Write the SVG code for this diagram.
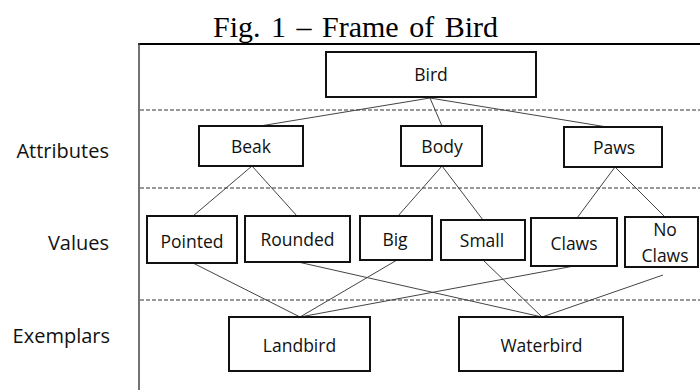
<svg xmlns="http://www.w3.org/2000/svg" width="700" height="390" viewBox="0 0 700 390">
  <style>
    .box { fill: #fff; stroke: #111; stroke-width: 2; }
    .lbl { font-family: "Open Sans", "Liberation Sans", sans-serif; font-size: 17.5px; fill: #111; text-anchor: middle; }
    .side { font-family: "Open Sans", "Liberation Sans", sans-serif; font-size: 20px; fill: #111; text-anchor: end; }
    .title { font-family: "Liberation Serif", "Times New Roman", serif; font-size: 30px; fill: #000; }
    .sep { stroke: #333; stroke-width: 1; stroke-dasharray: 4 2; fill: none; }
    .link { stroke: #444; stroke-width: 1; fill: none; }
  </style>

  <rect width="700" height="390" fill="#fff"/>

  <!-- caption -->
  <text class="title" x="213" y="37" word-spacing="3">Fig. 1 – Frame of Bird</text>

  <!-- frame -->
  <g id="frame">
    <line x1="138" y1="44" x2="700" y2="44" stroke="#000" stroke-width="2"/>
    <line x1="139" y1="43" x2="139" y2="390" stroke="#444" stroke-width="1.5"/>
  </g>

  <!-- layer separators -->
  <g id="separators">
    <line class="sep" x1="140" y1="110" x2="700" y2="110"/>
    <line class="sep" x1="140" y1="188" x2="700" y2="188"/>
    <line class="sep" x1="140" y1="300" x2="700" y2="300"/>
  </g>

  <!-- layer names -->
  <g id="layer-names">
    <text class="side" x="109" y="158">Attributes</text>
    <text class="side" x="109" y="250">Values</text>
    <text class="side" x="110" y="343">Exemplars</text>
  </g>

  <!-- connectors -->
  <g id="connectors">
    <line class="link" x1="430" y1="98" x2="260" y2="126" stroke-width="1.3"/>
    <line class="link" x1="430" y1="98" x2="442" y2="126" stroke-width="1.3"/>
    <line class="link" x1="430" y1="98" x2="607" y2="127" stroke-width="1.3"/>
    <line class="link" x1="252" y1="166" x2="193" y2="216"/>
    <line class="link" x1="252" y1="166" x2="297" y2="216"/>
    <line class="link" x1="442" y1="166" x2="398" y2="216"/>
    <line class="link" x1="442" y1="166" x2="483" y2="220"/>
    <line class="link" x1="615" y1="167" x2="577" y2="218"/>
    <line class="link" x1="615" y1="167" x2="665" y2="217"/>
    <line class="link" x1="193" y1="263" x2="300" y2="317"/>
    <line class="link" x1="397" y1="260" x2="300" y2="317"/>
    <line class="link" x1="574" y1="266" x2="300" y2="317"/>
    <line class="link" x1="298" y1="262" x2="542" y2="317"/>
    <line class="link" x1="483" y1="260" x2="542" y2="317"/>
    <line class="link" x1="663" y1="275" x2="542" y2="317"/>
  </g>

  <!-- frame root -->
  <g id="bird">
    <rect class="box" x="326" y="52" width="210" height="45"/>
    <text class="lbl" x="431" y="81">Bird</text>
  </g>

  <!-- attributes -->
  <g id="beak">
    <rect class="box" x="199" y="126" width="104" height="40"/>
    <text class="lbl" x="251" y="153">Beak</text>
  </g>
  <g id="body">
    <rect class="box" x="401" y="126" width="81" height="40"/>
    <text class="lbl" x="442" y="153">Body</text>
  </g>
  <g id="paws">
    <rect class="box" x="564" y="127" width="98" height="40"/>
    <text class="lbl" x="614" y="154">Paws</text>
  </g>

  <!-- values -->
  <g id="pointed">
    <rect class="box" x="147" y="216" width="90" height="47"/>
    <text class="lbl" x="192" y="248">Pointed</text>
  </g>
  <g id="rounded">
    <rect class="box" x="245" y="216" width="105" height="46"/>
    <text class="lbl" x="297.5" y="246">Rounded</text>
  </g>
  <g id="big">
    <rect class="box" x="360" y="216" width="72" height="44"/>
    <text class="lbl" x="395" y="246">Big</text>
  </g>
  <g id="small">
    <rect class="box" x="441" y="220" width="84" height="40"/>
    <text class="lbl" x="482" y="247">Small</text>
  </g>
  <g id="claws">
    <rect class="box" x="531" y="218" width="86" height="48"/>
    <text class="lbl" x="574" y="250">Claws</text>
  </g>
  <g id="no-claws">
    <rect class="box" x="625" y="217" width="73" height="50"/>
    <text class="lbl" x="665" y="236">No</text>
    <text class="lbl" x="665" y="262">Claws</text>
  </g>

  <!-- exemplars -->
  <g id="landbird">
    <rect class="box" x="229" y="317" width="141" height="54"/>
    <text class="lbl" x="299.5" y="352">Landbird</text>
  </g>
  <g id="waterbird">
    <rect class="box" x="459" y="317" width="164" height="54"/>
    <text class="lbl" x="541.5" y="352">Waterbird</text>
  </g>
</svg>
